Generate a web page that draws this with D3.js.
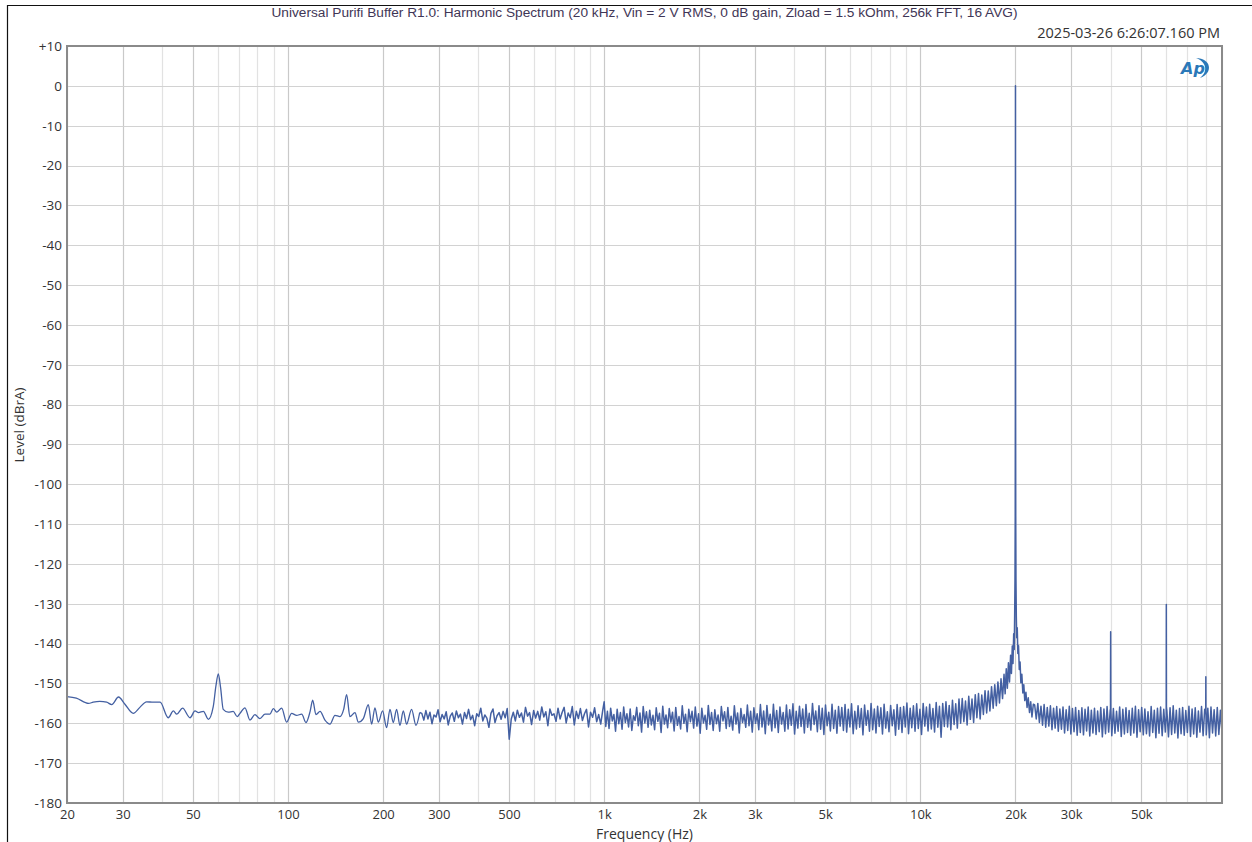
<!DOCTYPE html>
<html><head><meta charset="utf-8">
<script src="https://cdn.jsdelivr.net/npm/d3@7"></script>
<style>body{margin:0;background:#fff;} svg{display:block;}</style>
</head><body>
<svg id="chart" width="1252" height="842"></svg>
<script>
// ---------- text ----------
const titleText = "Universal Purifi Buffer R1.0: Harmonic Spectrum (20 kHz, Vin = 2 V RMS, 0 dB gain, Zload = 1.5 kOhm, 256k FFT, 16 AVG)";
const timestampText = "2025-03-26 6:26:07.160 PM";
const xAxisTitle = "Frequency (Hz)";
const yAxisTitle = "Level (dBrA)";

// ---------- ticks ----------
const xTickValues = [20,30,50,100,200,300,500,1000,2000,3000,5000,10000,20000,30000,50000];
const xTickLabels = ["20","30","50","100","200","300","500","1k","2k","3k","5k","10k","20k","30k","50k"];
const yTickValues = [10,0,-10,-20,-30,-40,-50,-60,-70,-80,-90,-100,-110,-120,-130,-140,-150,-160,-170,-180];
const yTickLabels = ["+10","0","-10","-20","-30","-40","-50","-60","-70","-80","-90","-100","-110","-120","-130","-140","-150","-160","-170","-180"];

// ---------- data ----------
// 20 Hz .. 260 Hz, explicit points
const lowFreqHz = [20,21.4,23.4,24.2,25.4,26.7,27.7,29.1,30.5,32.4,34.0,35.7,37.5,39.4,41.8,43.4,44.5,46.4,49.0,50.8,52.1,54.0,56.0,58.0,59.2,60.2,61.2,62.4,64.7,67.1,69.1,70.5,73.1,75.8,78.6,81.5,84.6,87.7,89.9,92.1,95.5,99.0,102.7,106.5,110.5,114.0,117.5,119.7,122.6,126.3,130.9,135.8,140.8,146.0,150.0,153.3,157.0,162.9,166.9,173.1,179.5,183.9,188.4,193.0,199.2,205.1,210.2,215.3,220.6,226.0,231.6,237.2,246.0,254.0,261.0];
const lowLevelDb = [-153.3,-153.7,-155.0,-154.7,-154.5,-154.7,-155.3,-153.4,-155.2,-157.5,-156.0,-154.6,-154.7,-154.7,-158.6,-156.9,-157.7,-156.2,-158.6,-156.9,-157.3,-157.0,-159.0,-155.9,-150.5,-147.6,-151.0,-156.5,-157.2,-157.0,-158.3,-157.5,-156.1,-159.2,-157.8,-158.8,-157.7,-157.7,-156.3,-157.2,-156.2,-159.7,-157.5,-158.0,-157.7,-159.8,-157.0,-154.2,-157.8,-157.0,-159.2,-160.2,-158.0,-158.3,-156.5,-152.8,-158.3,-157.3,-159.7,-158.8,-155.3,-160.2,-156.1,-159.7,-156.9,-161.1,-156.5,-159.8,-156.5,-160.5,-156.9,-160.2,-156.5,-160.5,-157.3];

// 265 Hz .. 990 Hz, evenly spaced on the log axis
const midStartHz = 265, midEndHz = 990;
const midLevelDb = [
-157.5,-159.2,-156.8,-158.9,-157.2,-160.1,-157.9,-158.4,-156.6,-159.6,
-157.8,-158.9,-157.1,-160.4,-158.2,-157.4,-159.5,-156.9,-158.6,-157.7,
-160.2,-157.3,-158.8,-156.5,-159.1,-158.0,-160.6,-157.6,-158.3,-156.2,
-159.4,-157.9,-158.7,-161.0,-157.5,-156.4,-159.8,-158.1,-157.3,-159.0,
-157.0,-158.6,-156.3,-164.0,-158.9,-157.2,-159.4,-156.7,-158.5,-157.4,
-159.7,-156.0,-158.2,-157.3,-160.3,-156.8,-158.7,-157.0,-159.2,-155.9,
-158.4,-157.1,-160.6,-156.4,-158.0,-157.6,-159.5,-156.2,-158.9,-157.3,
-156.0,-159.9,-157.4,-158.6,-155.8,-160.4,-157.0,-158.8,-156.3,-159.3,
-157.6,-156.5,-160.9,-157.2,-158.5,-156.1,-159.6,-157.8,-160.2,-156.7];

// 1 kHz .. 17 kHz, evenly spaced on the log axis
const hfStartHz = 1000, hfEndHz = 17000;
const hfLevelDb = [
-154.6,-160.8,-157.0,-161.3,-156.2,-159.4,-157.8,-162.0,-156.5,-160.1,
-157.3,-161.5,-155.9,-159.8,-157.6,-160.9,-156.4,-161.8,-158.1,-159.3,
-156.0,-160.6,-157.4,-162.2,-155.8,-159.9,-157.1,-161.0,-156.7,-160.4,
-158.0,-161.6,-156.1,-159.5,-157.5,-162.3,-155.7,-160.2,-157.9,-161.1,
-156.3,-159.7,-157.2,-161.9,-156.0,-160.5,-158.3,-161.4,-155.6,-160.0,
-157.7,-162.1,-156.5,-159.6,-157.0,-161.2,-155.9,-160.7,-157.6,-162.5,
-156.2,-159.9,-158.0,-161.5,-155.5,-160.3,-157.3,-161.8,-156.6,-160.1,
-157.9,-162.0,-155.8,-159.4,-157.1,-161.3,-156.0,-160.8,-158.2,-161.7,
-155.6,-160.2,-157.4,-162.4,-156.3,-159.8,-157.8,-161.0,-155.4,-160.6,
-157.0,-162.2,-156.1,-160.0,-157.6,-161.6,-155.3,-160.9,-156.9,-162.6,
-155.5,-160.4,-157.7,-161.9,-155.2,-161.1,-156.8,-162.3,-155.9,-160.2,
-157.3,-162.0,-155.4,-161.4,-156.6,-160.5,-155.1,-162.7,-157.0,-161.2,
-155.7,-160.8,-156.4,-162.4,-155.3,-161.0,-157.5,-161.7,-155.0,-160.3,
-156.9,-162.1,-155.6,-161.5,-156.2,-162.8,-155.4,-160.6,-157.2,-161.9,
-155.2,-161.3,-156.7,-162.5,-155.8,-160.7,-156.0,-161.8,-155.3,-162.2,
-156.5,-160.9,-155.1,-162.6,-157.0,-161.4,-155.6,-161.0,-156.3,-162.9,
-155.4,-160.5,-156.8,-162.0,-155.0,-161.6,-156.4,-162.4,-155.7,-160.8,
-156.1,-162.7,-155.2,-161.2,-157.1,-162.1,-155.5,-160.6,-156.6,-163.0,
-155.3,-161.5,-156.0,-162.3,-155.8,-160.9,-154.9,-162.6,-156.2,-161.1,
-155.6,-162.0,-155.1,-161.3,-156.5,-162.8,-155.0,-160.7,-155.9,-161.9,
-155.2,-161.4,-156.3,-162.2,-154.8,-161.0,-155.7,-163.5,-155.0,-160.8,
-154.6,-160.9,-155.5,-161.6,-154.2,-160.3,-155.1,-161.2,-153.9,-160.0,
-153.8,-159.6,-154.4,-160.4,-153.2,-159.0,-153.9,-159.8,-152.8,-158.6,
-152.5,-158.9,-152.9,-157.8,-151.8,-157.4,-151.9,-156.9,-150.8,-156.2];

// 17 kHz .. 23 kHz around the 20 kHz fundamental, explicit points
const fundFreqHz = [17200,17400,17600,17800,18000,18200,18400,18550,18700,18850,19000,19150,19300,19420,19540,19640,19740,19820,19880,19930,19965,19985,19995,20000,20005,20015,20035,20070,20120,20180,20260,20350,20450,20560,20680,20800,20950,21100,21250,21400,21580,21760,21950,22150,22350,22550,22780];
const fundLevelDb = [-150.3,-155.6,-149.6,-154.9,-148.8,-153.8,-147.7,-152.6,-146.3,-151.2,-144.8,-149.6,-142.9,-147.5,-140.6,-145.0,-137.5,-141.5,-133.0,-124.0,-108.0,-80.0,-40.0,0.0,-40.0,-80.0,-108.0,-124.0,-133.0,-138.5,-136.0,-142.5,-140.5,-146.5,-144.6,-149.8,-147.7,-152.4,-150.3,-154.3,-152.2,-156.0,-153.6,-157.3,-154.6,-158.4,-155.2];

// 23 kHz .. 90 kHz, evenly spaced on the log axis
const upStartHz = 23000, upEndHz = 90000;
const upperLevelDb = [
-155.4,-158.9,-155.0,-159.8,-155.7,-160.5,-155.3,-161.0,-156.0,-160.7,
-155.6,-161.6,-156.2,-161.2,-155.8,-162.0,-156.4,-161.5,-155.9,-162.4,
-156.6,-161.8,-155.7,-162.7,-156.3,-162.1,-156.0,-163.0,-156.8,-162.3,
-156.1,-162.9,-156.5,-161.9,-155.9,-163.2,-156.7,-162.4,-156.2,-162.8,
-156.9,-162.1,-156.0,-163.4,-156.4,-162.6,-155.8,-162.2,-156.6,-163.1,
-156.3,-162.5,-157.0,-162.0,-155.9,-163.3,-156.5,-162.7,-156.1,-162.3,
-156.8,-163.0,-156.2,-162.4,-155.7,-163.5,-156.6,-162.1,-156.0,-162.9,
-156.4,-162.6,-157.1,-163.2,-155.8,-162.3,-156.7,-163.6,-156.2,-162.5,
-155.9,-163.1,-156.5,-162.2,-156.9,-163.4,-156.1,-162.8,-155.6,-162.4,
-156.7,-163.7,-156.3,-162.6,-156.0,-163.0,-156.8,-162.3,-155.7,-163.3,
-156.4,-162.7,-156.1,-163.5,-156.9,-162.2,-155.8,-163.1,-156.5,-162.9,
-156.2,-163.6,-155.9,-162.4,-156.6,-163.2,-156.0,-162.8,-156.7,-162.5];

// harmonics (2nd, 3rd, 4th)
const harmFreqHz = [39950,40000,40050,59950,60000,60050,79950,80000,80050];
const harmLevelDb = [-157.5,-137.0,-156.5,-158.0,-130.2,-156.0,-157.5,-148.3,-156.5];

// ---------- build series ----------
function gridSeg(f0, f1, levels) {
  const n = levels.length;
  return levels.map((v, i) => ({ f: f0 * Math.pow(f1 / f0, i / (n - 1)), db: v }));
}
const pairs = (fs, ls) => fs.map((f, i) => ({ f, db: ls[i] }));
const lowSeries = pairs(lowFreqHz, lowLevelDb);
const restSeries = [].concat(
  lowSeries.slice(-1),
  gridSeg(midStartHz, midEndHz, midLevelDb),
  gridSeg(hfStartHz, hfEndHz, hfLevelDb),
  pairs(fundFreqHz, fundLevelDb),
  gridSeg(upStartHz, upEndHz, upperLevelDb),
  pairs(harmFreqHz, harmLevelDb)
).sort((a, b) => a.f - b.f);

// ---------- layout ----------
const svg = d3.select("#chart");
const L = 67, R = 1222, T = 46, B = 803;
const x = d3.scaleLog().domain([20, 90000]).range([L, R]);
const y = d3.scaleLinear().domain([-180, 10]).range([B, T]);
const font = "'Open Sans', 'Noto Sans', sans-serif";

// outer frame (top & left edges visible)
svg.append("line").attr("x1", 7).attr("x2", 1252).attr("y1", 5.5).attr("y2", 5.5).attr("stroke", "#111").attr("stroke-width", 1.2);
svg.append("line").attr("x1", 7.5).attr("x2", 7.5).attr("y1", 5).attr("y2", 842).attr("stroke", "#111").attr("stroke-width", 1.2);

// grid
const minorF = [];
[10, 100, 1000, 10000].forEach(d => { for (let k = 1; k <= 9; k++) { const f = k * d; if (f >= 20 && f <= 90000) minorF.push(f); } });
const gGrid = svg.append("g");
gGrid.selectAll("line.vmin").data(minorF.filter(f => !xTickValues.includes(f))).join("line")
  .attr("x1", d => Math.round(x(d)) + 0.5).attr("x2", d => Math.round(x(d)) + 0.5)
  .attr("y1", T).attr("y2", B).attr("stroke", "#e2e2e2").attr("stroke-width", 1.2);
gGrid.selectAll("line.vmaj").data(xTickValues).join("line")
  .attr("x1", d => Math.round(x(d)) + 0.5).attr("x2", d => Math.round(x(d)) + 0.5)
  .attr("y1", T).attr("y2", B).attr("stroke", "#c9c9c9").attr("stroke-width", 1.2);
gGrid.selectAll("line.h").data(yTickValues).join("line")
  .attr("x1", L).attr("x2", R)
  .attr("y1", d => Math.round(y(d)) + 0.5).attr("y2", d => Math.round(y(d)) + 0.5)
  .attr("stroke", "#d2d2d2").attr("stroke-width", 1.2);

// trace
svg.append("clipPath").attr("id", "clip").append("rect").attr("x", L).attr("y", T).attr("width", R - L).attr("height", B - T);
const smooth = d3.line().x(d => x(d.f)).y(d => y(d.db)).curve(d3.curveMonotoneX);
const sharp = d3.line().x(d => x(d.f)).y(d => y(d.db));
const traceColor = "#4460a2";
svg.append("path").datum(lowSeries).attr("d", smooth).attr("clip-path", "url(#clip)")
  .attr("fill", "none").attr("stroke", traceColor).attr("stroke-width", 1.3).attr("stroke-linejoin", "round");
svg.append("path").datum(restSeries).attr("d", sharp).attr("clip-path", "url(#clip)")
  .attr("fill", "none").attr("stroke", traceColor).attr("stroke-width", 1.5).attr("stroke-linejoin", "round");

// plot frame
svg.append("rect").attr("x", L).attr("y", T).attr("width", R - L).attr("height", B - T)
  .attr("fill", "none").attr("stroke", "#8a8a8a").attr("stroke-width", 2);

// axes labels
const xAxis = d3.axisBottom(x).tickValues(xTickValues).tickFormat((d, i) => xTickLabels[i]).tickSize(0).tickPadding(0);
const gx = svg.append("g").attr("transform", `translate(0,${B})`).call(xAxis);
gx.select(".domain").remove();
gx.selectAll("text").attr("y", 16).attr("dy", 0).attr("font-family", font).attr("font-size", 13).attr("fill", "#333");

const yAxis = d3.axisLeft(y).tickValues(yTickValues).tickFormat((d, i) => yTickLabels[i]).tickSize(0).tickPadding(0);
const gy = svg.append("g").attr("transform", `translate(${L - 5},0)`).call(yAxis);
gy.select(".domain").remove();
gy.selectAll("text").attr("x", 0).attr("font-family", font).attr("font-size", 13.5).attr("fill", "#333");

// titles
svg.append("text").attr("x", (L + R) / 2).attr("y", 17).attr("text-anchor", "middle")
  .attr("font-family", "'Liberation Sans', Arial, sans-serif").attr("font-size", 12.5).attr("fill", "#3f3656")
  .attr("textLength", 746).attr("lengthAdjust", "spacingAndGlyphs").text(titleText);
svg.append("text").attr("x", 1220).attr("y", 38).attr("text-anchor", "end")
  .attr("font-family", font).attr("font-size", 14.5).attr("fill", "#333").text(timestampText);
svg.append("text").attr("x", (L + R) / 2).attr("y", 838.5).attr("text-anchor", "middle")
  .attr("font-family", font).attr("font-size", 14).attr("fill", "#333").text(xAxisTitle);
svg.append("text").attr("transform", "translate(24,425) rotate(-90)").attr("text-anchor", "middle")
  .attr("font-family", font).attr("font-size", 13.5).attr("fill", "#333").text(yAxisTitle);

// AP logo
const logo = svg.append("g").attr("transform", "translate(1181,58)");
logo.append("text").attr("x", 0).attr("y", 16).attr("font-family", "'DejaVu Sans', sans-serif")
  .attr("font-style", "italic").attr("font-weight", "bold").attr("font-size", 16).attr("fill", "#2a78b8").text("Ap");
logo.append("path").attr("d", "M15,0 C30,0 33,15 19,20 C27,14 26,4 15,0 Z").attr("fill", "#2a78b8");
</script>
</body></html>
